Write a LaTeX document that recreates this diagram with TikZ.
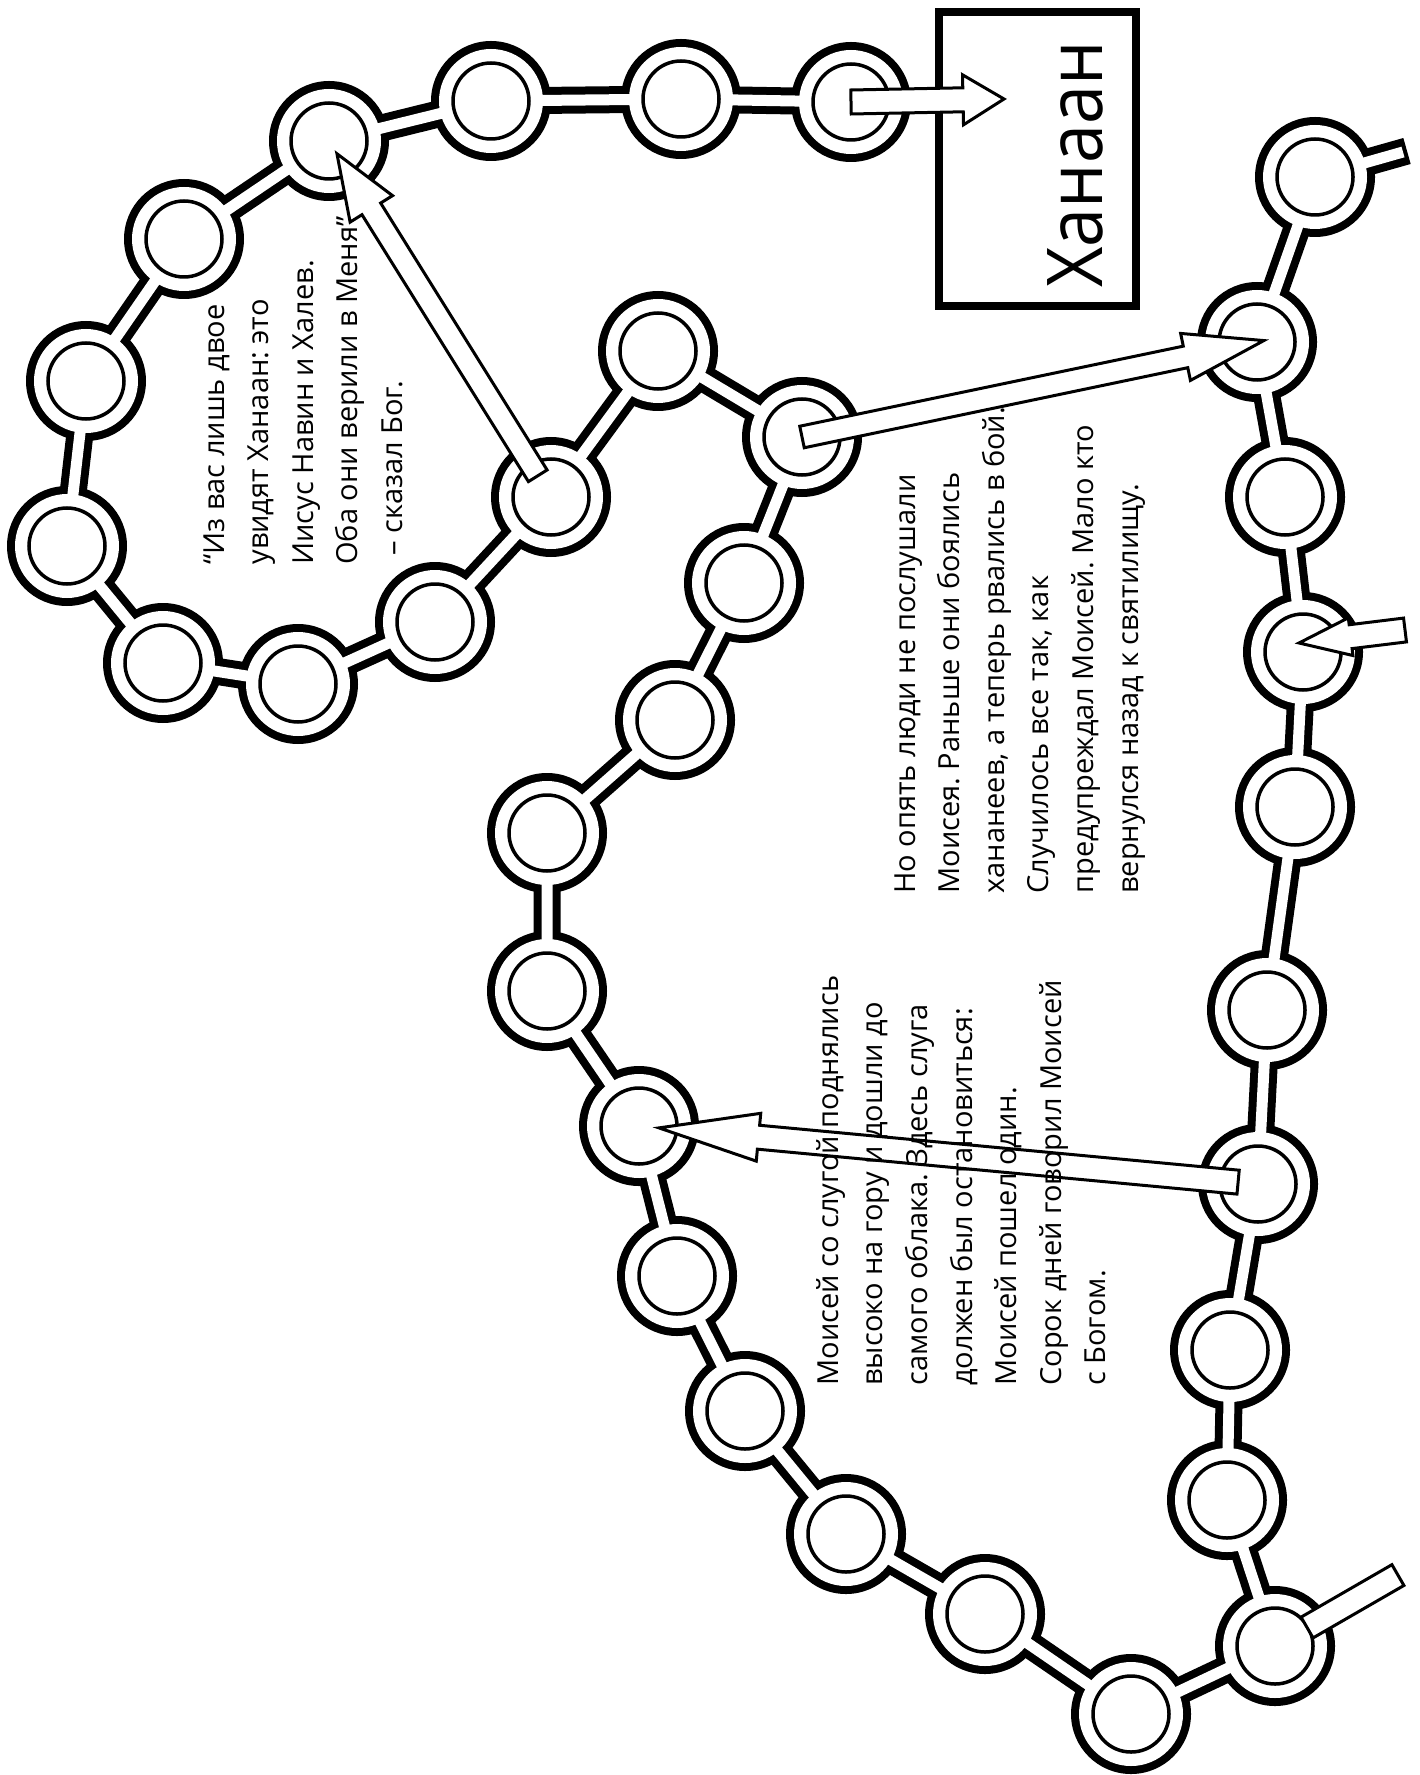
\documentclass[tikz,border=0pt]{standalone}
\usepackage{fontspec}
\setmainfont{Open Sans}
\usetikzlibrary{calc}
\frenchspacing
\tikzset{
  roadblack/.style={line width=13.5pt, black, line join=round},
  roadwhite/.style={line width=5.5pt, white, line join=round},
  fatarrow/.style={draw=black, fill=white, line width=1.5pt, line join=miter},
  bodytext/.style={rotate=90, anchor=north west, inner sep=0pt, align=left,
    font=\fontsize{14.5pt}{22.3pt}\selectfont},
  bigtitle/.style={rotate=90, anchor=base west, inner sep=0pt,
    font=\fontsize{38.5pt}{40pt}\selectfont},
  titlebox/.style={draw, line width=4pt, minimum width=98.5pt, minimum height=147pt, inner sep=0pt},
}
% #1 from, #2 to, #3 shaft half width, #4 head half width, #5 head length
\newcommand\fatarrow[5]{%
  \draw[fatarrow] let \p1=(#1), \p2=(#2),
     \n1={atan2(\y2-\y1,\x2-\x1)},
     \n2={veclen(\x2-\x1,\y2-\y1)},
     \n3={veclen(\x2-\x1,\y2-\y1)-#5}
   in [shift={(\p1)}, rotate=\n1]
   (0pt,-#3) -- (\n3,-#3) -- (\n3,-#4) -- (\n2,0pt) -- (\n3,#4) -- (\n3,#3) -- (0pt,#3) -- cycle;}
% bar without head
\newcommand\fatbar[3]{%
  \draw[fatarrow] let \p1=(#1), \p2=(#2),
     \n1={atan2(\y2-\y1,\x2-\x1)},
     \n2={veclen(\x2-\x1,\y2-\y1)}
   in [shift={(\p1)}, rotate=\n1]
   (0pt,-#3) -- (\n2,-#3) -- (\n2,#3) -- (0pt,#3) -- cycle;}
\begin{document}
\begin{tikzpicture}[x=0.5pt,y=-0.5pt]
\useasboundingbox (0,0) rectangle (1419,1775);
\fill[white] (0,0) rectangle (1419,1775);
\foreach \n/\x/\y in {1/851/102, 2/681/99, 3/491/101, 4/329/141, 5/184/239,
  6/86/381, 7/67/546, 8/163/663, 9/298/684, 10/435/622, 11/551/497,
  12/658/351, 13/802/437, 14/744/583, 15/675/720, 16/547/833, 17/547/991,
  18/639/1126, 19/677/1276, 20/745/1411, 21/846/1534, 22/985/1614,
  23/1131/1714, 24/1275/1646, 25/1227/1500, 26/1230/1350, 27/1258/1184,
  28/1267/1010, 29/1295/807, 30/1303/652, 31/1285/497, 32/1257/342, 33/1315/177}
  {\coordinate (c\n) at (\x,\y);}
\coordinate (exitR) at (1407,151);
\coordinate (exitW) at (1403,152);
% road
\draw[roadblack] (exitR) foreach \i in {33,32,...,1} { -- (c\i) };
\foreach \i in {1,...,33} \fill[black] (c\i) circle (30pt);
\draw[roadwhite] (exitW) foreach \i in {33,32,...,1} { -- (c\i) };
\foreach \i in {1,...,33} \fill[white] (c\i) circle (26pt);
\foreach \i in {1,...,33} \draw[line width=1.75pt, fill=white] (c\i) circle (19pt);
% title box
\node[titlebox] (box) at (1037.5,159) {};
\node[bigtitle] (hanaan) at (1102,288) {\scalebox{0.91}[1]{Ханаан}};
% arrows
\coordinate (tipH) at (1004,99);
\fatarrow{c1}{tipH}{6pt}{12.5pt}{20.5pt}
\fatarrow{$(c11)!12.5pt!(c4)$}{$(c4)!7.5pt!(c11)$}{5.5pt}{12.5pt}{32.5pt}
\fatarrow{c13}{$(c32)!-3.5pt!(c13)$}{5.5pt}{12pt}{40pt}
\fatarrow{$(c27)!10pt!(c18)$}{$(c18)!10pt!(c27)$}{6pt}{12pt}{50pt}
\coordinate (edgeR) at (1405,630);
\fatarrow{edgeR}{$(c30)+(-4,-9)$}{6pt}{9.5pt}{26pt}
\coordinate (stubE) at (1398,1575);
\fatbar{$(c24)!18.5pt!(stubE)$}{stubE}{6pt}
% texts
\node[bodytext] (t1) at (203,565) {“Из вас лишь двое\\увидят Ханаан: это\\Иисус Навин и Халев.\\Оба они верили в Меня”\\\hspace*{4.5pt}– сказал Бог.};
\node[bodytext] (t2) at (816,1386) {Моисей со слугой поднялись\\высоко на гору и дошли до\\самого облака. Здесь слуга\\должен был остановиться:\\Моисей пошел один.\\Сорок дней говорил Моисей\\с Богом.};
\node[bodytext] (t3) at (894,894) {Но опять люди не послушали\\Моисея. Раньше они боялись\\хананеев, а теперь рвались в бой.\\Случилось все так, как\\предупреждал Моисей. Мало кто\\вернулся назад к святилищу.};
\end{tikzpicture}
\end{document}
